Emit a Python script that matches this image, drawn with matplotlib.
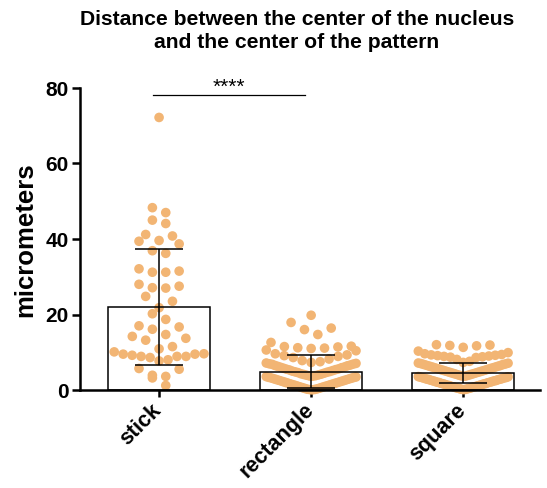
import numpy as np
import matplotlib
matplotlib.use("Agg")
import matplotlib.pyplot as plt
from matplotlib.transforms import ScaledTranslation

plt.rcParams['font.family'] = ['Liberation Sans', 'DejaVu Sans']

# ---------------- data ----------------
categories = ["stick", "rectangle", "square"]
means = [22.0, 4.9, 4.5]
sds = [15.4, 4.4, 2.6]

stick_values = [72.2, 48.3, 47.0, 45.0, 44.1, 41.2, 39.6, 40.8, 38.7, 39.4,
                36.2, 36.9, 32.1, 31.2, 31.2, 31.5, 27.1, 27.5, 28.0, 27.0,
                24.8, 23.5, 21.8, 20.2, 18.7, 17.0, 16.1, 16.7, 14.7, 14.2,
                13.2, 13.7, 11.5, 10.9, 10.1, 8.9, 8.9, 9.5, 8.0, 9.5,
                9.2, 7.7, 9.6, 8.6, 8.9, 5.7, 5.5, 3.6, 3.2, 3.9, 1.2]

rectangle_values = [19.8, 17.9, 16.4, 16.0, 14.7, 12.6, 11.6, 11.4, 11.5, 11.2,
                    11.1, 11.0, 10.6, 10.4, 9.6, 9.3, 9.1, 8.9, 8.6, 8.2,
                    7.8, 7.5, 7.3, 7.15, 7.05, 6.95, 6.85, 6.8, 6.6, 6.5,
                    6.4, 6.25, 6.1, 6.0, 5.9, 5.75, 5.6, 5.5, 5.4, 5.3,
                    5.15, 5.0, 4.9, 4.8, 4.7, 4.6, 4.45, 4.3, 4.2, 4.1,
                    4.0, 3.9, 3.8, 3.7, 3.65, 3.55, 3.45, 3.35, 3.3, 3.2,
                    3.1, 3.0, 2.9, 2.8, 2.7, 2.6, 2.5, 2.4, 2.3, 2.2,
                    2.1, 2.0, 1.9, 1.8, 1.7, 1.6, 1.5, 1.4, 1.3, 1.2,
                    1.1, 1.0, 0.9, 0.8, 0.7, 0.6, 0.5, 0.4, 0.3, 0.2,
                    0.15, 0.1, 0.05]

square_values = [12.0, 11.9, 11.8, 11.7, 11.3, 10.3, 9.9, 9.6, 9.4, 9.3,
                 9.2, 9.1, 9.0, 8.9, 8.8, 8.7, 8.6, 8.1, 7.6, 7.3,
                 7.15, 7.1, 7.0, 6.9, 6.8, 6.75, 6.6, 6.5, 6.4, 6.3,
                 6.2, 6.1, 6.0, 5.9, 5.8, 5.7, 5.6, 5.5, 5.4, 5.3,
                 5.2, 5.1, 5.0, 4.9, 4.8, 4.7, 4.6, 4.5, 4.4, 4.3,
                 4.2, 4.1, 4.0, 3.9, 3.8, 3.7, 3.65, 3.55, 3.5, 3.4,
                 3.3, 3.25, 3.2, 3.1, 3.0, 2.9, 2.85, 2.8, 2.7, 2.6,
                 2.5, 2.45, 2.4, 2.3, 2.2, 2.1, 2.05, 2.0, 1.9, 1.8,
                 1.7, 1.65, 1.6, 1.5, 1.4, 1.3, 1.25, 1.2, 1.1, 1.0,
                 0.9, 0.85, 0.8, 0.7, 0.6, 0.5, 0.45, 0.4, 0.3, 0.2,
                 0.15, 0.1]

groups = [stick_values, rectangle_values, square_values]

yticks = [0, 20, 40, 60, 80]
title_lines = ["Distance between the center of the nucleus",
               "and the center of the pattern"]
ylabel = "micrometers"
sig_text = "****"

dot_color = "#F2B574"


def swarm_offsets(vals, binh, step, maxhalf):
    """Prism-like scatter: values are binned by height; inside a bin the
    points are spread centre-out in ascending order (gives chevrons)."""
    vals = np.asarray(vals, dtype=float)
    offs = np.zeros(len(vals))
    bins = np.floor(vals / binh).astype(int)
    for b in np.unique(bins):
        idx = np.where(bins == b)[0]
        idx = idx[np.argsort(vals[idx], kind="stable")]
        n = len(idx)
        s = step if n <= 1 else min(step, 2 * maxhalf / (n - 1))
        slots = []
        if n % 2 == 1:
            slots.append(0.0)
            k = 1
            while len(slots) < n:
                slots.append(k)
                if len(slots) < n:
                    slots.append(-k)
                k += 1
        else:
            k = 0.5
            while len(slots) < n:
                slots.append(k)
                slots.append(-k)
                k += 1
        for j, i in enumerate(idx):
            offs[i] = slots[j] * s
    return offs


fig = plt.figure(figsize=(5.47, 4.88), dpi=100)
ax = fig.add_axes([80 / 547, 1 - 390 / 488, 460 / 547, 302 / 488])

x = np.arange(len(categories))
bar_w = 0.67

ax.bar(x, means, width=bar_w, color="white", edgecolor="none", zorder=1)

for xi, vals in zip(x, groups):
    offs = swarm_offsets(vals, 3.6, 0.088, 0.295)
    ax.scatter(xi + offs, vals, s=48, color=dot_color, edgecolors="none",
               zorder=2, clip_on=False)

ax.bar(x, means, width=bar_w, facecolor="none", edgecolor="black",
       linewidth=1.1, zorder=3)
ax.errorbar(x, means, yerr=sds, fmt="none", ecolor="black", elinewidth=1.1,
            capsize=17, capthick=1.1, zorder=4)

ax.set_xlim(-0.52, 2.505)
ax.set_ylim(0, 80)
ax.set_yticks(yticks)
ax.set_xticks(x)
ax.set_xticklabels(categories)

for sp in ["top", "right"]:
    ax.spines[sp].set_visible(False)
for sp in ["left", "bottom"]:
    ax.spines[sp].set_linewidth(1.8)

ax.tick_params(axis="y", direction="out", length=6, width=1.8, pad=2,
               labelsize=15)
ax.tick_params(axis="x", direction="out", length=5, width=1.8, pad=2,
               labelsize=15.5)
for lab in ax.get_yticklabels():
    lab.set_fontweight("bold")
shift = ScaledTranslation(-8 / 100, 0 / 100, fig.dpi_scale_trans)
for lab in ax.get_xticklabels():
    lab.set_fontweight("bold")
    lab.set_rotation(45)
    lab.set_ha("right")
    lab.set_va("top")
    lab.set_rotation_mode("anchor")
    lab.set_transform(lab.get_transform() + shift)

# significance bar
ax.plot([-0.04, 0.96], [78.1, 78.1], color="black", linewidth=0.9,
        clip_on=False, zorder=5)
ax.text(0.46, 78.6, sig_text, ha="center", va="baseline", fontsize=15)

fig.text(297 / 547, 1 - 25 / 488, title_lines[0], ha="center",
         va="baseline", fontsize=15.2, fontweight="bold")
fig.text(297 / 547, 1 - 48.5 / 488, title_lines[1], ha="center",
         va="baseline", fontsize=15.2, fontweight="bold")
fig.text(25 / 547, 1 - 240 / 488, ylabel, rotation=90, ha="center",
         va="center", fontsize=18.5, fontweight="bold")

fig.savefig("out.png", dpi=100)
